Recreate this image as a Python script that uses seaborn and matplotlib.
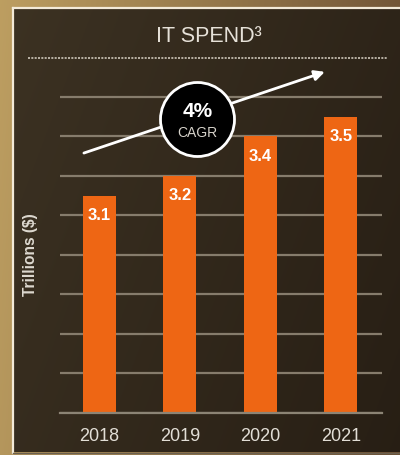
import numpy as np
import pandas as pd
import matplotlib
matplotlib.use("Agg")
import matplotlib.pyplot as plt
import seaborn as sns
from matplotlib.lines import Line2D

years = ["2018", "2019", "2020", "2021"]
spend = [3.1, 3.2, 3.4, 3.5]
value_labels = ["3.1", "3.2", "3.4", "3.5"]
grid_ticks = [2.0, 2.2, 2.4, 2.6, 2.8, 3.0, 3.2, 3.4, 3.6]
title_text = "IT SPEND\u00b3"
ylabel_text = "Trillions ($)"
cagr_value = "4%"
cagr_label = "CAGR"

plt.rcParams['font.family'] = ['Liberation Sans', 'DejaVu Sans']

W, H = 400, 455
fig = plt.figure(figsize=(W / 100, H / 100), dpi=100)

# ---- background (gold frame + dark panel) ----
bg = fig.add_axes([0, 0, 1, 1])
bg.set_xlim(0, W)
bg.set_ylim(H, 0)
bg.axis('off')
gx = np.linspace(0, 1, 200)
gy = np.linspace(0, 1, 200)
GX, GY = np.meshgrid(gx, gy)
gold_a = np.array([0.74, 0.62, 0.38])
gold_b = np.array([0.42, 0.31, 0.20])
t = np.clip(GX * 0.9 + GY * 0.1, 0, 1)[..., None]
outer = gold_a * (1 - t) + gold_b * t
bg.imshow(outer, extent=(0, W, H, 0), aspect='auto', zorder=0)

pan_a = np.array([0.235, 0.195, 0.135])
pan_b = np.array([0.155, 0.12, 0.08])
tp = np.clip(GX * 0.7 + GY * 0.3, 0, 1)[..., None]
panel = pan_a * (1 - tp) + pan_b * tp
bg.imshow(panel, extent=(13, W + 2, 452, 8), aspect='auto', zorder=1)
bg.add_line(Line2D([13, 13], [7.5, 453], color='#f3ead8', lw=1.6, zorder=2))
bg.add_line(Line2D([13, W + 2], [7.5, 7.5], color='#f3ead8', lw=1.6, zorder=2))
bg.add_line(Line2D([13, W + 2], [452.5, 452.5], color='#6b604f', lw=1.0, zorder=2))

# title & dashed rule
bg.text(209, 36, title_text, color='#e6e1d8', fontsize=15.5, ha='center', va='center', zorder=3)
bg.add_line(Line2D([28, 387], [58, 58], color='#cfc8bb', lw=1.2, ls=(0, (1.2, 0.8)), zorder=3))

# y label
bg.text(31, 255, ylabel_text, color='#ddd8cf', fontsize=11.2, fontweight='bold',
        rotation=90, ha='center', va='center', zorder=3)

# ---- main chart ----
ax = fig.add_axes([60 / W, (H - 413) / H, 322 / W, (413 - 60) / H])
ax.patch.set_alpha(0)
df = pd.DataFrame({"year": years, "spend": spend})
sns.barplot(data=df, x="year", y="spend", color='#ee6614', saturation=1,
            width=0.41, ax=ax, zorder=2)
ax.set_xlim(-0.49, 3.51)
ax.set_ylim(2.0, 3.787)
ax.set_yticks(grid_ticks)
ax.set_yticklabels([])
ax.yaxis.grid(True, color='#867c6c', lw=1.6)
ax.set_axisbelow(True)
ax.axhline(2.0, color='#8c8475', lw=1.6, clip_on=False, zorder=3)
for s in ax.spines.values():
    s.set_visible(False)
ax.tick_params(axis='both', length=0)
ax.tick_params(axis='x', pad=11, labelsize=13, labelcolor='#e2ded6')
ax.set_xlabel("")
ax.set_ylabel("")

for i, (v, lab) in enumerate(zip(spend, value_labels)):
    ax.annotate(lab, (i, v), xytext=(0, -14.4), textcoords='offset points',
                ha='center', va='center', color='white', fontsize=12,
                fontweight='bold', zorder=4)

# growth arrow
ax.annotate("", xy=(2.80, 3.727), xytext=(-0.193, 3.316),
            arrowprops=dict(arrowstyle='-|>,head_length=0.6,head_width=0.3',
                            color='white', lw=2.0, shrinkA=0, shrinkB=0),
            annotation_clip=False, zorder=5)

# CAGR badge
cx, cy = 1.217, 3.489
ax.scatter([cx], [cy], s=2840, c='black', edgecolors='white', linewidths=2.0,
           zorder=6, clip_on=False)
ax.text(cx, cy + 0.037, cagr_value, color='white', fontsize=15, fontweight='bold',
        ha='center', va='center', zorder=7)
ax.text(cx, cy - 0.07, cagr_label, color='#d6d2ca', fontsize=10,
        ha='center', va='center', zorder=7)

fig.savefig("out.png", dpi=100)
